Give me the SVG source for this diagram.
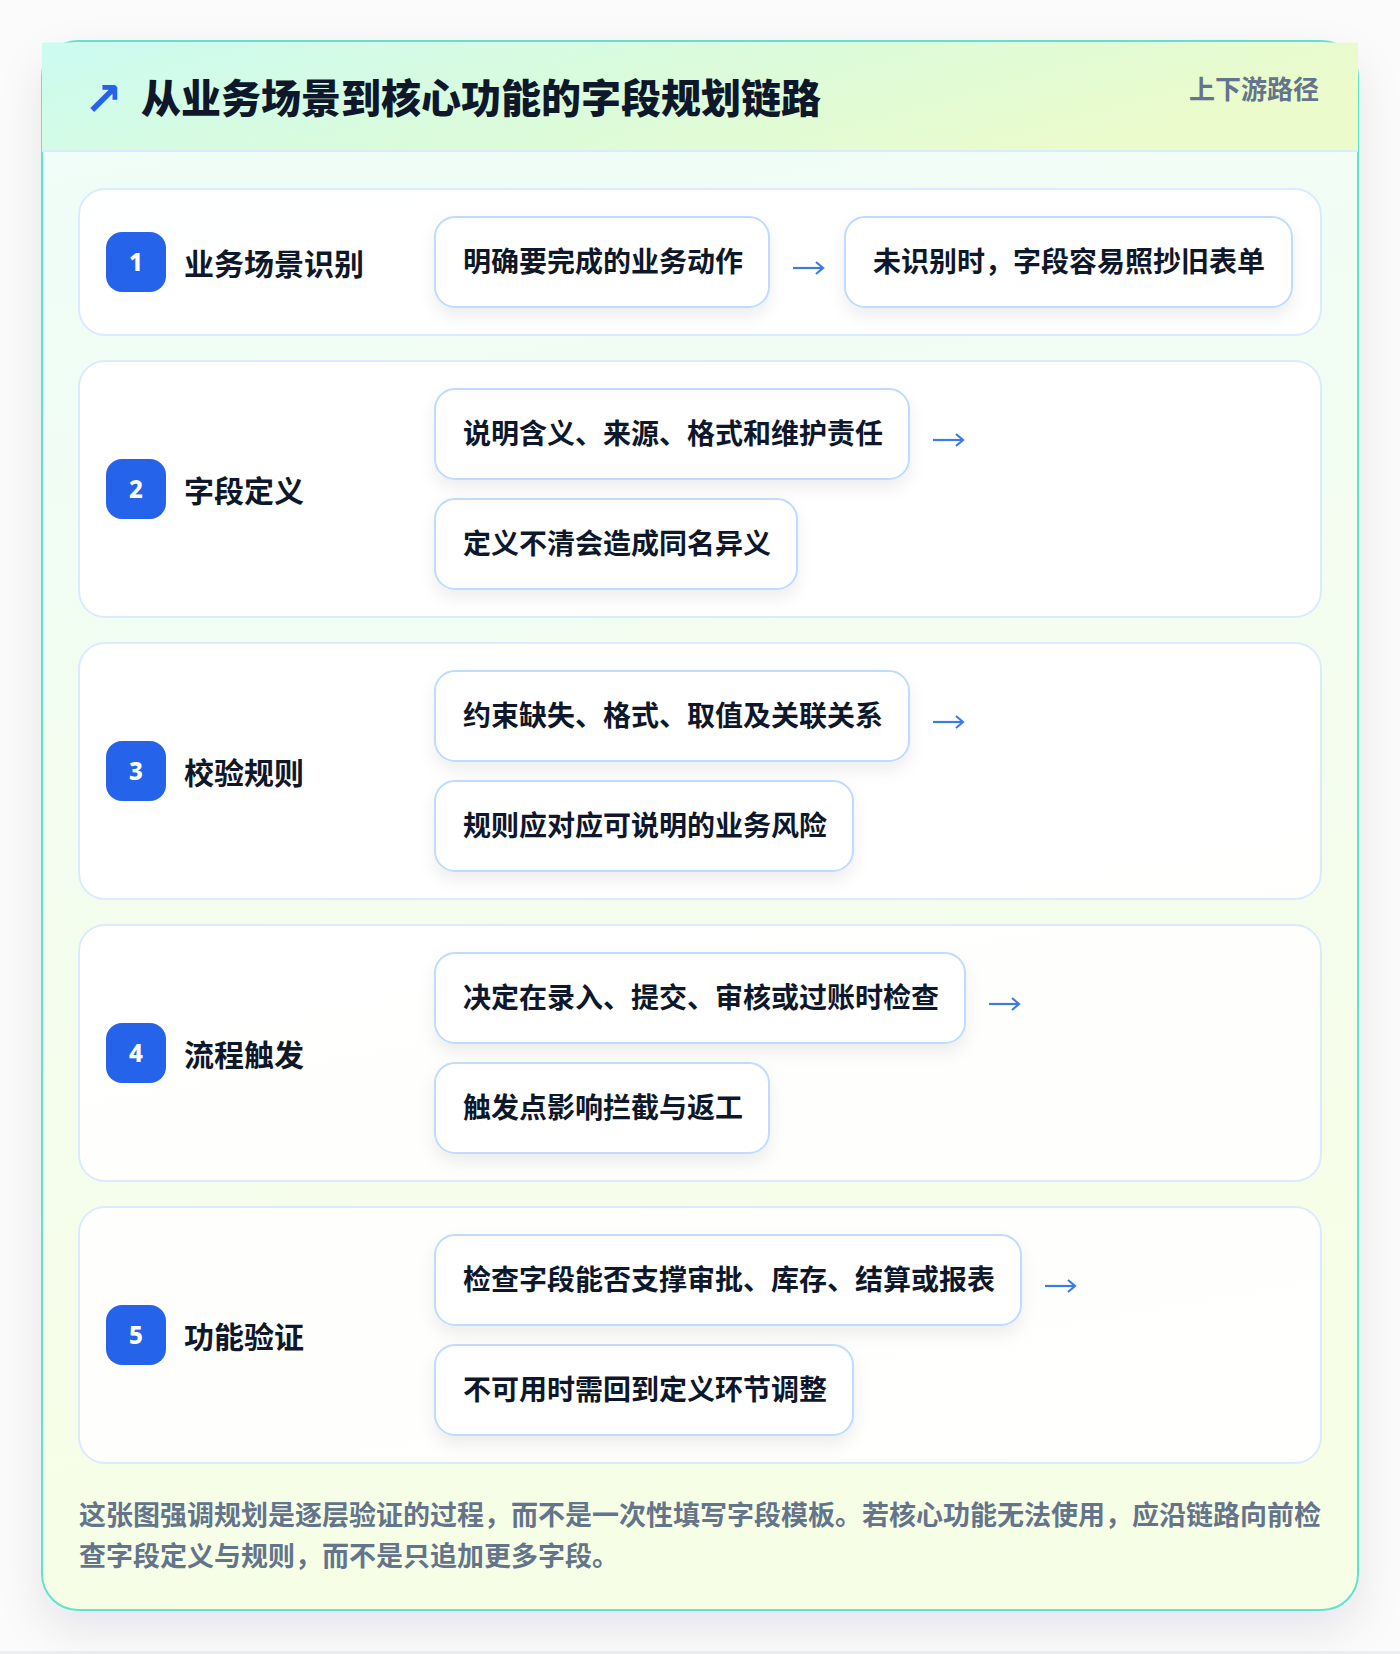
<svg xmlns="http://www.w3.org/2000/svg" width="1400" height="1654" viewBox="0 0 1400 1654">
<defs>
<linearGradient id="hdr" x1="0" y1="0" x2="1" y2="0.3">
<stop offset="0" stop-color="#ccfbf1"/>
<stop offset="0.5" stop-color="#dafbdc"/>
<stop offset="1" stop-color="#ebfbcc"/>
</linearGradient>
<linearGradient id="body" x1="0" y1="0" x2="0.15" y2="1">
<stop offset="0" stop-color="#effdf9"/>
<stop offset="1" stop-color="#f7fee6"/>
</linearGradient>
<filter id="cardsh" x="-10%" y="-10%" width="120%" height="120%">
<feDropShadow dx="0" dy="18" stdDeviation="22" flood-color="#0f172a" flood-opacity="0.09"/>
</filter>
<filter id="boxsh" x="-20%" y="-30%" width="140%" height="170%">
<feDropShadow dx="0" dy="8" stdDeviation="8" flood-color="#0f172a" flood-opacity="0.07"/>
</filter>
<marker id="ah" markerUnits="userSpaceOnUse" markerWidth="12" markerHeight="16" refX="9" refY="7" orient="auto">
<path d="M2,1 L9,7 L2,13" fill="none" stroke="#3b7be8" stroke-width="2.2"/>
</marker>
<style>
text{font-family:"Noto Sans CJK SC","Noto Sans",sans-serif;font-weight:700}
.row{fill:#ffffff;fill-opacity:0.9;stroke:#dbeafe;stroke-width:2}
.box{fill:#ffffff;stroke:#bfdbfe;stroke-width:2;filter:url(#boxsh)}
.badge{fill:#2563eb}
.num{font-family:"Noto Sans","Open Sans",sans-serif;font-size:24px;font-weight:800;fill:#ffffff;text-anchor:middle}
.lbl{font-size:30px;fill:#0f172a}
.bt{font-size:28px;fill:#0f172a}
.conn{fill:none;stroke:#3b7be8;stroke-width:2.2;marker-end:url(#ah)}
.foot{font-size:27px;fill:#64748b}
</style>
</defs>
<rect x="0" y="0" width="1400" height="1654" fill="#fbfbfc"/>
<rect x="0" y="1651" width="1400" height="3" fill="#eeeff2"/>
<g id="card">
<rect x="42" y="41" width="1316" height="1569" rx="36" fill="url(#body)" stroke="#5fe3cd" stroke-width="2" filter="url(#cardsh)"/>
<rect x="42" y="42.5" width="1316" height="108.5" fill="url(#hdr)"/>
<line x1="42" y1="151" x2="1358" y2="151" stroke="#dbeafe" stroke-width="2"/>
<text x="84" y="115" font-size="46" fill="#2563eb" style="font-family:'DejaVu Sans',sans-serif;font-weight:700">↗</text>
<text x="141" y="113" font-size="40" fill="#0f172a" style="font-weight:800">从业务场景到核心功能的字段规划链路</text>
<text x="1319" y="99" font-size="26" fill="#64748b" text-anchor="end">上下游路径</text>
</g>
<g id="row1">
<rect class="row" x="79" y="189" width="1242" height="146" rx="26"/>
<rect class="badge" x="106" y="232" width="60" height="60" rx="16"/>
<text class="num" x="136" y="271">1</text>
<text class="lbl" x="184" y="274.5">业务场景识别</text>
</g>
<g id="node1a"><rect class="box" x="435" y="217" width="334" height="90" rx="20"/><text class="bt" x="463" y="272">明确要完成的业务动作</text></g>
<g id="node1b"><rect class="box" x="845" y="217" width="447" height="90" rx="20"/><text class="bt" x="873" y="272">未识别时，字段容易照抄旧表单</text></g>
<g id="row2">
<rect class="row" x="79" y="361" width="1242" height="256" rx="26"/>
<rect class="badge" x="106" y="459" width="60" height="60" rx="16"/>
<text class="num" x="136" y="498">2</text>
<text class="lbl" x="184" y="501.5">字段定义</text>
</g>
<g id="node2a"><rect class="box" x="435" y="389" width="474" height="90" rx="20"/><text class="bt" x="463" y="444">说明含义、来源、格式和维护责任</text></g>
<g id="node2b"><rect class="box" x="435" y="499" width="362" height="90" rx="20"/><text class="bt" x="463" y="554">定义不清会造成同名异义</text></g>
<g id="row3">
<rect class="row" x="79" y="643" width="1242" height="256" rx="26"/>
<rect class="badge" x="106" y="741" width="60" height="60" rx="16"/>
<text class="num" x="136" y="780">3</text>
<text class="lbl" x="184" y="783.5">校验规则</text>
</g>
<g id="node3a"><rect class="box" x="435" y="671" width="474" height="90" rx="20"/><text class="bt" x="463" y="726">约束缺失、格式、取值及关联关系</text></g>
<g id="node3b"><rect class="box" x="435" y="781" width="418" height="90" rx="20"/><text class="bt" x="463" y="836">规则应对应可说明的业务风险</text></g>
<g id="row4">
<rect class="row" x="79" y="925" width="1242" height="256" rx="26"/>
<rect class="badge" x="106" y="1023" width="60" height="60" rx="16"/>
<text class="num" x="136" y="1062">4</text>
<text class="lbl" x="184" y="1065.5">流程触发</text>
</g>
<g id="node4a"><rect class="box" x="435" y="953" width="530" height="90" rx="20"/><text class="bt" x="463" y="1008">决定在录入、提交、审核或过账时检查</text></g>
<g id="node4b"><rect class="box" x="435" y="1063" width="334" height="90" rx="20"/><text class="bt" x="463" y="1118">触发点影响拦截与返工</text></g>
<g id="row5">
<rect class="row" x="79" y="1207" width="1242" height="256" rx="26"/>
<rect class="badge" x="106" y="1305" width="60" height="60" rx="16"/>
<text class="num" x="136" y="1344">5</text>
<text class="lbl" x="184" y="1347.5">功能验证</text>
</g>
<g id="node5a"><rect class="box" x="435" y="1235" width="586" height="90" rx="20"/><text class="bt" x="463" y="1290">检查字段能否支撑审批、库存、结算或报表</text></g>
<g id="node5b"><rect class="box" x="435" y="1345" width="418" height="90" rx="20"/><text class="bt" x="463" y="1400">不可用时需回到定义环节调整</text></g>
<g id="connectors">
<path class="conn" d="M793 268 H823"/>
<path class="conn" d="M933 440 H963"/>
<path class="conn" d="M933 722 H963"/>
<path class="conn" d="M989 1004 H1019"/>
<path class="conn" d="M1045 1286 H1075"/>
</g>
<g id="footer">
<text class="foot" x="79" y="1525">这张图强调规划是逐层验证的过程，而不是一次性填写字段模板。若核心功能无法使用，应沿链路向前检</text>
<text class="foot" x="79" y="1566">查字段定义与规则，而不是只追加更多字段。</text>
</g>
</svg>
